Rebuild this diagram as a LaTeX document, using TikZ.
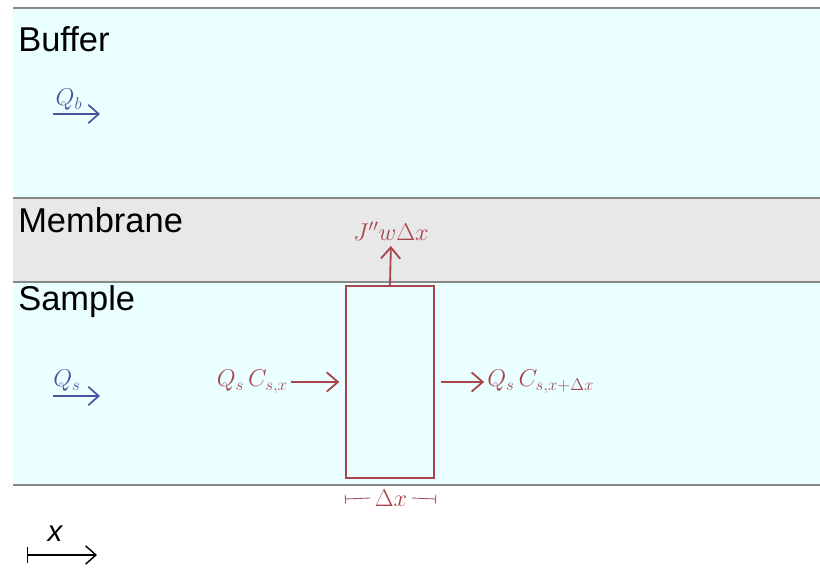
\documentclass[tikz,border=0pt]{standalone}
\usepackage{fontspec}
\setsansfont{Liberation Sans}
\usepackage{tikz}
\usetikzlibrary{arrows.meta}
\definecolor{watercol}{HTML}{EAFFFF}
\definecolor{memcol}{HTML}{E8E8E8}
\definecolor{linecol}{HTML}{858A88}
\definecolor{flowcol}{HTML}{4A52A0}
\definecolor{balcol}{HTML}{A8464E}

\begin{document}
\begin{tikzpicture}[x=0.025cm, y=-0.025cm]
        \tikzstyle{layer line}=[draw=linecol, line width=1.4pt]
        \tikzstyle{region}=[font=\sffamily\fontsize{24.5}{28}\selectfont, anchor=west, inner sep=0pt]
        \tikzstyle{flow}=[draw=flowcol, line width=1.2pt, -{Straight Barb[length=2.6mm,width=4.6mm]}]
        \tikzstyle{flow label}=[text=flowcol, font=\fontsize{17}{20}\selectfont, inner sep=0pt]
        \tikzstyle{balance}=[draw=balcol, line width=1.3pt, -{Straight Barb[length=2.8mm,width=4.8mm]}]
        \tikzstyle{balance label}=[text=balcol, font=\fontsize{17}{20}\selectfont, inner sep=0pt]
        \useasboundingbox (0,0) rectangle (820,569);

        % Layers
        \fill[watercol] (13,8) rectangle (820,198);
        \fill[memcol] (13,198) rectangle (820,282);
        \fill[watercol] (13,282) rectangle (820,485);
        \foreach \y in {8,198,282,485}
            \draw[layer line] (13,\y) -- (820,\y);

        % Region names
        \node[region] (buffer) at (18,39) {Buffer};
        \node[region] (membrane) at (18,220) {Membrane};
        \node[region] (sample) at (18,302) {Sample};

        % Flow rates
        \coordinate (Qb-a) at (53,114);
        \coordinate (Qb-b) at (100,114);
        \draw[flow] (Qb-a) -- (Qb-b);
        \node[flow label] (Qb) at (69,100) {$Q_b$};
        \coordinate (Qs-a) at (53,396);
        \coordinate (Qs-b) at (100,396);
        \draw[flow] (Qs-a) -- (Qs-b);
        \node[flow label] (Qs) at (67,381) {$Q_s$};

        % Control volume
        \node[draw=balcol, line width=0.9pt, minimum width=2.2cm, minimum height=4.8cm, inner sep=0pt] (cell) at (390,382) {};
        \node[balance label] (J) at (391,231) {$J''w\Delta x$};
        \draw[balance, shorten >=4pt] (cell.north) -- (J.south);
        \node[balance label, anchor=east] (Qin) at (288,382) {$Q_s\,C_{s,x}$};
        \draw[balance, shorten <=2pt, shorten >=0.15cm] (Qin) -- (cell.west);
        \node[balance label, anchor=west] (Qout) at (487,382) {$Q_s\,C_{s,x+\Delta x}$};
        \draw[balance, shorten <=0.15cm, shorten >=2pt] (cell.east) -- (Qout);

        % Width of the volume
        \coordinate (dx-l) at (345,499);
        \coordinate (dx-r) at (436,499);
        \node[balance label, font=\fontsize{16}{18}\selectfont, inner sep=3pt] (dx) at (391,498) {$\Delta x$};
        \draw[draw=balcol!80!gray, line width=0.6pt, {Bar[width=2.2mm]}-] (dx-l) -- (dx.west);
        \draw[draw=balcol!80!gray, line width=0.6pt, -{Bar[width=2.2mm]}] (dx.east) -- (dx-r);

        % Axis
        \coordinate (ax-a) at (27,555);
        \coordinate (ax-b) at (97,555);
        \draw[line width=1pt, {Bar[width=4mm]}-{Straight Barb[length=2.6mm,width=4.6mm]}] (ax-a) -- (ax-b);
        \node[font=\sffamily\itshape\fontsize{21}{24}\selectfont, inner sep=0pt] (xlab) at (55,534) {x};
    \end{tikzpicture}
\end{document}
